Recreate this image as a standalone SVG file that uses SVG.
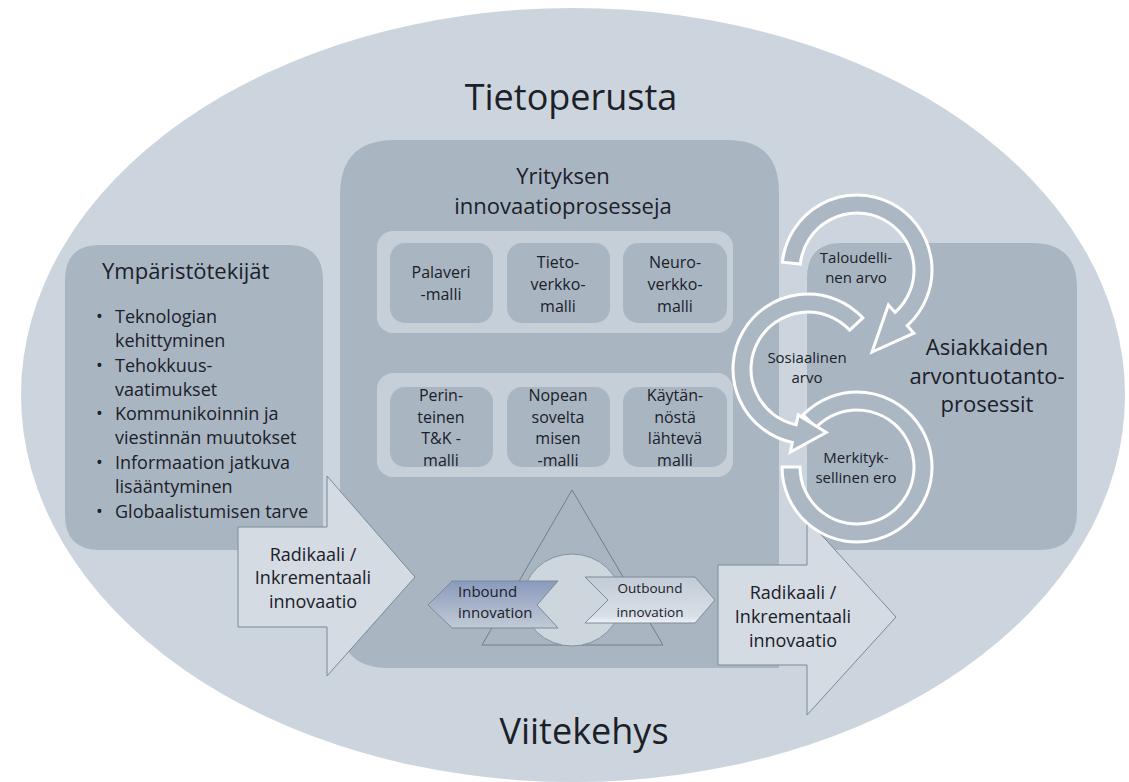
<svg xmlns="http://www.w3.org/2000/svg" width="1129" height="782" viewBox="0 0 1129 782">
  <defs>
    <style>
      .t { font-family: "Open Sans", "Noto Sans", "DejaVu Sans", sans-serif; fill: #1b2029; }
      .mid { text-anchor: middle; }
      .box { fill: #a9b6c2; }
      .panel { fill: #c6cfd8; }
      .big-arrow { fill: #d4dbe2; stroke: #7b8997; stroke-width: 1; }
      .ring { fill: #abb8c4; stroke: #ffffff; stroke-width: 3; stroke-linejoin: miter; }
    </style>
    <linearGradient id="inGrad" x1="0" y1="0" x2="0" y2="1">
      <stop offset="0" stop-color="#8a9abd"/>
      <stop offset="1" stop-color="#c2cad5"/>
    </linearGradient>
    <linearGradient id="outGrad" x1="0" y1="0" x2="0" y2="1">
      <stop offset="0" stop-color="#c2cbd6"/>
      <stop offset="0.85" stop-color="#d8dfe7"/>
      <stop offset="1" stop-color="#eef2f6"/>
    </linearGradient>
  </defs>

  <!-- background frame -->
  <rect width="1129" height="782" fill="#ffffff"/>
  <g id="frame">
    <ellipse cx="573" cy="395" rx="552" ry="387" fill="#ccd5dd"/>
    <text class="t mid" x="571" y="110" font-size="36">Tietoperusta</text>
    <text class="t mid" x="584" y="744" font-size="36">Viitekehys</text>
  </g>

  <!-- environment factors -->
  <g id="ymparisto">
    <path class="box" d="M100 245 H288 Q323 245 323 280 V550 H100 Q65 550 65 515 V280 Q65 245 100 245 Z"/>
    <text class="t" x="102" y="279" font-size="22">Ympäristötekijät</text>
    <g font-size="18">
      <text class="t" x="96" y="323">•</text>
      <text class="t" x="115" y="323">Teknologian</text>
      <text class="t" x="115" y="347">kehittyminen</text>
      <text class="t" x="96" y="372">•</text>
      <text class="t" x="115" y="372">Tehokkuus-</text>
      <text class="t" x="115" y="396">vaatimukset</text>
      <text class="t" x="96" y="420">•</text>
      <text class="t" x="115" y="420">Kommunikoinnin ja</text>
      <text class="t" x="115" y="444">viestinnän muutokset</text>
      <text class="t" x="96" y="469">•</text>
      <text class="t" x="115" y="469">Informaation jatkuva</text>
      <text class="t" x="115" y="493">lisääntyminen</text>
      <text class="t" x="96" y="518">•</text>
      <text class="t" x="115" y="518">Globaalistumisen tarve</text>
    </g>
  </g>

  <!-- company innovation processes -->
  <g id="yritys">
    <path class="box" d="M395 140 H727 Q779 140 779 192 V668 H388 Q340 668 340 620 V195 Q340 140 395 140 Z"/>
    <text class="t mid" x="563" y="184" font-size="22">Yrityksen</text>
    <text class="t mid" x="563" y="214" font-size="22">innovaatioprosesseja</text>
    <rect class="panel" x="377" y="231" width="356" height="102" rx="16"/>
    <rect class="panel" x="377" y="373" width="356" height="104" rx="16"/>
  </g>

  <g id="palaveri">
    <rect class="box" x="390" y="243" width="103" height="80" rx="15"/>
    <text class="t mid" x="441" y="278" font-size="16">Palaveri</text>
    <text class="t mid" x="441" y="300" font-size="16">-malli</text>
  </g>
  <g id="tietoverkko">
    <rect class="box" x="507" y="243" width="103" height="80" rx="15"/>
    <text class="t mid" x="558" y="268" font-size="16">Tieto-</text>
    <text class="t mid" x="558" y="290" font-size="16">verkko-</text>
    <text class="t mid" x="558" y="312" font-size="16">malli</text>
  </g>
  <g id="neuroverkko">
    <rect class="box" x="623" y="243" width="104" height="80" rx="15"/>
    <text class="t mid" x="675" y="268" font-size="16">Neuro-</text>
    <text class="t mid" x="675" y="290" font-size="16">verkko-</text>
    <text class="t mid" x="675" y="312" font-size="16">malli</text>
  </g>
  <g id="perinteinen">
    <rect class="box" x="390" y="387" width="103" height="80" rx="15"/>
    <text class="t mid" x="441" y="401" font-size="16">Perin-</text>
    <text class="t mid" x="441" y="423" font-size="16">teinen</text>
    <text class="t mid" x="441" y="444" font-size="16">T&amp;K -</text>
    <text class="t mid" x="441" y="466" font-size="16">malli</text>
  </g>
  <g id="nopean">
    <rect class="box" x="507" y="387" width="103" height="80" rx="15"/>
    <text class="t mid" x="558" y="401" font-size="16">Nopean</text>
    <text class="t mid" x="558" y="423" font-size="16">sovelta</text>
    <text class="t mid" x="558" y="444" font-size="16">misen</text>
    <text class="t mid" x="558" y="466" font-size="16">-malli</text>
  </g>
  <g id="kaytanto">
    <rect class="box" x="623" y="387" width="104" height="80" rx="15"/>
    <text class="t mid" x="675" y="401" font-size="16">Käytän-</text>
    <text class="t mid" x="675" y="423" font-size="16">nöstä</text>
    <text class="t mid" x="675" y="444" font-size="16">lähtevä</text>
    <text class="t mid" x="675" y="466" font-size="16">malli</text>
  </g>

  <!-- open innovation: triangle, circle and the two chevrons -->
  <g id="avoin">
    <polygon points="572,490 663,645 482,645" fill="none" stroke="#6e7d8c" stroke-width="1"/>
    <ellipse cx="572" cy="600" rx="49" ry="46" fill="#cdd5dd" stroke="#8493a2" stroke-width="1"/>
  </g>
  <g id="inbound">
    <polygon points="428,605 452,581 558,581 537,605 558,628 452,628" fill="url(#inGrad)" stroke="#7d8b99" stroke-width="1"/>
    <text class="t" x="458" y="597" font-size="15">Inbound</text>
    <text class="t" x="458" y="618" font-size="15">innovation</text>
  </g>
  <g id="outbound">
    <polygon points="585,577 695,577 715,600 695,623 585,623 608,600" fill="url(#outGrad)" stroke="#7d8b99" stroke-width="1"/>
    <text class="t mid" x="650" y="593" font-size="13.5">Outbound</text>
    <text class="t mid" x="650" y="617" font-size="13.5">innovation</text>
  </g>

  <!-- customers' value creation -->
  <g id="asiakkaat">
    <path class="box" d="M842 243 H1032 Q1077 243 1077 288 V512 Q1077 550 1039 550 H807 V278 Q807 243 842 243 Z"/>
    <text class="t mid" x="987" y="355" font-size="22">Asiakkaiden</text>
    <text class="t mid" x="987" y="384" font-size="22">arvontuotanto-</text>
    <text class="t mid" x="987" y="412" font-size="22">prosessit</text>
  </g>

  <!-- innovation flow arrows -->
  <g id="connectors">
    <g id="radikaali-in">
      <polygon class="big-arrow" points="238,527 327,527 327,476 415,577 327,676 327,627 238,627"/>
      <text class="t mid" x="313" y="561" font-size="18">Radikaali /</text>
      <text class="t mid" x="313" y="584" font-size="18">Inkrementaali</text>
      <text class="t mid" x="313" y="608" font-size="18">innovaatio</text>
    </g>
    <g id="radikaali-out">
      <polygon class="big-arrow" points="718,565 807,565 807,519 896,617 807,715 807,665 718,665"/>
      <text class="t mid" x="793" y="599" font-size="18">Radikaali /</text>
      <text class="t mid" x="793" y="623" font-size="18">Inkrementaali</text>
      <text class="t mid" x="793" y="647" font-size="18">innovaatio</text>
    </g>
  </g>

  <!-- value cycle: three circular arrows -->
  <g id="merkityksellinen">
    <path class="ring" d="M803.05 414.9 A75 75 0 1 1 782 467 L800 467 A57 57 0 1 0 816 427.4 Z"/>
    <text class="t mid" x="856" y="463" font-size="15">Merkityk-</text>
    <text class="t mid" x="856" y="483" font-size="15">sellinen ero</text>
  </g>
  <g id="sosiaalinen">
    <path class="ring" d="M862.85 317.85 A75 75 0 1 0 792.41 442.36 L790.33 452.14 L826.19 432.44 L798.23 414.97 L796.15 424.75 A57 57 0 1 1 849.69 330.13 Z"/>
    <text class="t mid" x="807" y="363" font-size="15">Sosiaalinen</text>
    <text class="t mid" x="807" y="383" font-size="15">arvo</text>
  </g>
  <g id="taloudellinen">
    <path class="ring" d="M782.41 262.16 A75 75 0 1 1 907.2 325.7 L913.9 333.2 L872 352 L888.4 304.9 L895.1 312.4 A57 57 0 1 0 800.31 264.04 Z"/>
    <text class="t mid" x="856" y="263" font-size="15">Taloudelli-</text>
    <text class="t mid" x="856" y="283" font-size="15">nen arvo</text>
  </g>
</svg>
